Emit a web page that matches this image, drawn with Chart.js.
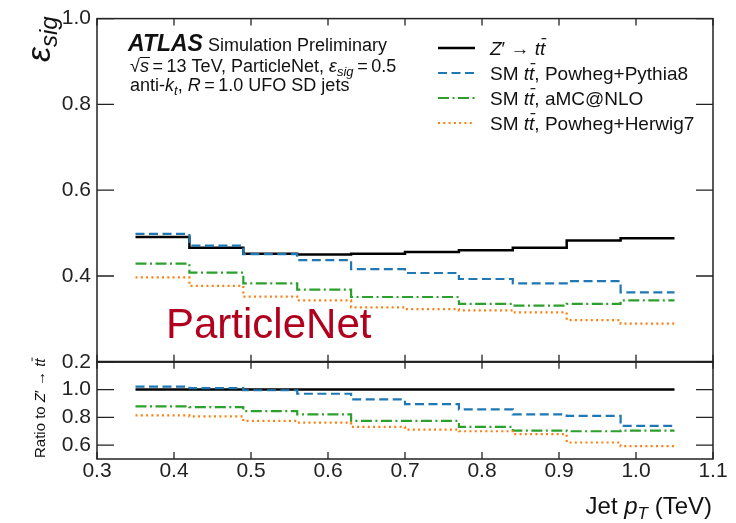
<!DOCTYPE html>
<html>
<head>
<meta charset="utf-8">
<script src="https://cdn.jsdelivr.net/npm/chart.js@4.4.0/dist/chart.umd.min.js"></script>
<style>
  html, body { margin: 0; padding: 0; background: #fff; }
  canvas { display: block; }
</style>
</head>
<body>
<canvas id="effChart" width="736" height="523"></canvas>
<script>
// jet pT bin edges (TeV)
const binEdges = [0.35, 0.42, 0.49, 0.56, 0.63, 0.70, 0.77, 0.84, 0.91, 0.98, 1.05];

const seriesLabels = ["Z′ → tt̄", "SM tt̄, Powheg+Pythia8", "SM tt̄, aMC@NLO", "SM tt̄, Powheg+Herwig7"];

// signal efficiency per bin, top panel
const effSignal = [0.491, 0.466, 0.452, 0.450, 0.452, 0.456, 0.460, 0.466, 0.483, 0.488];
const effPythia = [0.498, 0.471, 0.451, 0.437, 0.416, 0.407, 0.393, 0.383, 0.388, 0.362];
const effAmc    = [0.429, 0.408, 0.383, 0.368, 0.351, 0.351, 0.335, 0.331, 0.335, 0.343];
const effHerwig = [0.397, 0.377, 0.352, 0.343, 0.327, 0.323, 0.320, 0.315, 0.297, 0.289];

// ratio to Z' -> tt, bottom panel
const ratioSignal = [1.0, 1.0, 1.0, 1.0, 1.0, 1.0, 1.0, 1.0, 1.0, 1.0];
const ratioPythia = [1.021, 1.010, 0.995, 0.970, 0.929, 0.895, 0.857, 0.821, 0.810, 0.738];
const ratioAmc    = [0.879, 0.874, 0.845, 0.821, 0.774, 0.774, 0.731, 0.705, 0.700, 0.705];
const ratioHerwig = [0.814, 0.807, 0.774, 0.762, 0.731, 0.712, 0.700, 0.679, 0.619, 0.593];

const xTicks = [0.3, 0.4, 0.5, 0.6, 0.7, 0.8, 0.9, 1.0, 1.1];
const effTicks = [0.2, 0.4, 0.6, 0.8, 1.0];
const ratioTicks = [0.6, 0.8, 1.0];

const F = '"Liberation Sans", Arial, Helvetica, sans-serif';
const fnt = (size, style) => (style ? style + ' ' : '') + size + 'px ' + F;

const styles = [
  { color: '#000000', dash: [], width: 2.5 },
  { color: '#1f77b4', dash: [9, 4.5], width: 2.2 },
  { color: '#2ca02c', dash: [11, 3.5, 2, 3.5], width: 2.2 },
  { color: '#ff7f0e', dash: [2, 3.3], width: 2.2 }
];

// histogram as step line: one point per left edge, plus the last right edge
function steps(vals) {
  const pts = vals.map((v, i) => ({ x: binEdges[i], y: v }));
  pts.push({ x: binEdges[binEdges.length - 1], y: vals[vals.length - 1] });
  return pts;
}

function mkSet(vals, k, axis) {
  return {
    label: seriesLabels[k],
    data: steps(vals),
    yAxisID: axis,
    borderColor: styles[k].color,
    borderDash: styles[k].dash,
    borderWidth: styles[k].width,
    stepped: true,
    pointRadius: 0,
    fill: false
  };
}

const mainSeries = [effSignal, effPythia, effAmc, effHerwig];
const ratioSeries = [ratioSignal, ratioPythia, ratioAmc, ratioHerwig];
const datasets = [];
[3, 2, 1, 0].forEach(k => datasets.push(mkSet(mainSeries[k], k, 'y')));
[3, 2, 1, 0].forEach(k => datasets.push(mkSet(ratioSeries[k], k, 'yr')));

// rich text: list of {t, font, dy, bar}
function drawRich(ctx, x, y, segs) {
  let cx = x;
  segs.forEach(s => {
    ctx.font = s.font;
    ctx.fillText(s.t, cx, y + (s.dy || 0));
    const w = ctx.measureText(s.t).width;
    if (s.bar) {
      ctx.save();
      ctx.lineWidth = s.barW || 1;
      ctx.strokeStyle = ctx.fillStyle;
      ctx.beginPath();
      ctx.moveTo(cx + s.bar[0], y + s.bar[1]);
      ctx.lineTo(cx + w + s.bar[2], y + s.bar[1]);
      ctx.stroke();
      ctx.restore();
    }
    cx += w;
  });
  return cx - x;
}
function richWidth(ctx, segs) {
  let w = 0;
  segs.forEach(s => { ctx.font = s.font; w += ctx.measureText(s.t).width; });
  return w;
}
// turn a label with tt̄ / Z′ into styled pieces
function richLabel(str, size) {
  const out = [];
  str.split(/(tt̄|Z′)/).forEach(p => {
    if (!p) return;
    if (p === 'tt̄') {
      out.push({ t: 't', font: fnt(size, 'italic') });
      out.push({ t: 't', font: fnt(size, 'italic'), bar: [1.5, -0.86 * size, 1], barW: size / 16 });
    } else if (p === 'Z′') {
      out.push({ t: 'Z', font: fnt(size, 'italic') });
      out.push({ t: '′', font: fnt(size) });
    } else {
      out.push({ t: p, font: fnt(size) });
    }
  });
  return out;
}

const framePlugin = {
  id: 'frame',
  afterDatasetsDraw(chart) {
    const { ctx, scales } = chart;
    const x = scales.x, y = scales.y, yr = scales.yr;
    const L = x.left, R = x.right;
    const T = y.getPixelForValue(1.0), M = y.getPixelForValue(0.2), B = yr.getPixelForValue(0.5);
    ctx.save();
    ctx.strokeStyle = '#222';
    ctx.lineWidth = 1.5;
    ctx.strokeRect(L, T, R - L, M - T);
    ctx.strokeRect(L, M, R - L, B - M);
    ctx.lineWidth = 2;
    ctx.beginPath(); ctx.moveTo(L, M); ctx.lineTo(R, M); ctx.stroke();
    ctx.lineWidth = 1.3;
    ctx.beginPath();
    effTicks.forEach(v => {
      const p = y.getPixelForValue(v);
      ctx.moveTo(L, p); ctx.lineTo(L + 17, p);
      ctx.moveTo(R, p); ctx.lineTo(R - 17, p);
    });
    ratioTicks.forEach(v => {
      const p = yr.getPixelForValue(v);
      ctx.moveTo(L, p); ctx.lineTo(L + 17, p);
      ctx.moveTo(R, p); ctx.lineTo(R - 17, p);
    });
    xTicks.forEach(v => {
      const p = x.getPixelForValue(v);
      [[T, 1], [M, -1], [M, 1], [B, -1]].forEach(([yy, d]) => {
        ctx.moveTo(p, yy); ctx.lineTo(p, yy + 7 * d);
      });
    });
    ctx.stroke();
    ctx.restore();
  }
};

const textPlugin = {
  id: 'texts',
  afterDraw(chart) {
    const ctx = chart.ctx;
    ctx.save();
    ctx.fillStyle = '#111';
    ctx.textBaseline = 'alphabetic';
    ctx.textAlign = 'left';

    // ATLAS label block
    drawRich(ctx, 128, 51, [
      { t: 'ATLAS', font: fnt(23, 'italic bold') },
      { t: ' Simulation Preliminary', font: fnt(18) }
    ]);
    drawRich(ctx, 130, 72, [
      { t: '√', font: fnt(18) },
      { t: 's', font: fnt(18, 'italic'), bar: [0, -14.5, 1], barW: 1 },
      { t: '\u2009=\u200913 TeV, ParticleNet, ', font: fnt(18) },
      { t: 'ε', font: fnt(18, 'italic') },
      { t: 'sig', font: fnt(13, 'italic'), dy: 4 },
      { t: '\u2009=\u20090.5', font: fnt(18) }
    ]);
    drawRich(ctx, 130, 91, [
      { t: 'anti-', font: fnt(18) },
      { t: 'k', font: fnt(18, 'italic') },
      { t: 't', font: fnt(13, 'italic'), dy: 4 },
      { t: ', ', font: fnt(18) },
      { t: 'R', font: fnt(18, 'italic') },
      { t: '\u2009=\u20091.0 UFO SD jets', font: fnt(18) }
    ]);

    // legend
    seriesLabels.forEach((lab, k) => {
      const cy = 48 + k * 25;
      ctx.save();
      ctx.strokeStyle = styles[k].color;
      ctx.lineWidth = styles[k].width;
      ctx.setLineDash(styles[k].dash);
      ctx.beginPath(); ctx.moveTo(438, cy); ctx.lineTo(475, cy); ctx.stroke();
      ctx.restore();
      drawRich(ctx, 490, cy + 7, richLabel(lab, 19));
    });

    // big tagger name
    ctx.fillStyle = '#b0001e';
    ctx.font = fnt(42);
    ctx.fillText('ParticleNet', 166, 338);
    ctx.fillStyle = '#111';

    // x title, right aligned
    const xt = [
      { t: 'Jet ', font: fnt(24) },
      { t: 'p', font: fnt(24, 'italic') },
      { t: 'T', font: fnt(17, 'italic'), dy: 5 },
      { t: ' (TeV)', font: fnt(24) }
    ];
    drawRich(ctx, 712 - richWidth(ctx, xt), 514, xt);

    // y title epsilon_sig
    ctx.save();
    ctx.translate(50, 62);
    ctx.rotate(-Math.PI / 2);
    drawRich(ctx, 0, 0, [
      { t: 'ε', font: fnt(34, 'italic') },
      { t: 'sig', font: fnt(24, 'italic'), dy: 7 }
    ]);
    ctx.restore();

    // ratio title
    ctx.save();
    ctx.translate(45, 458);
    ctx.rotate(-Math.PI / 2);
    drawRich(ctx, 0, 0, richLabel('Ratio to Z′ → tt̄', 15));
    ctx.restore();
    ctx.restore();
  }
};

const tickFont = { family: F, size: 21 };

new Chart(document.getElementById('effChart'), {
  type: 'line',
  data: { datasets: datasets },
  options: {
    responsive: false,
    animation: false,
    layout: { padding: { top: 15, right: 23, left: 0, bottom: 0 } },
    plugins: { legend: { display: false }, tooltip: { enabled: false } },
    scales: {
      x: {
        type: 'linear', min: 0.3, max: 1.1,
        grid: { display: false, drawTicks: false },
        border: { display: false },
        afterBuildTicks: s => { s.ticks = xTicks.map(v => ({ value: v })); },
        afterFit: s => { s.height = 64; },
        ticks: { font: tickFont, color: '#222', padding: 0, autoSkip: false, maxRotation: 0,
                 callback: v => v.toFixed(1) }
      },
      // left boxes are stacked in reverse order, so the ratio axis comes first
      yr: {
        type: 'linear', min: 0.5, max: 1.2, position: 'left',
        stack: 'panels', stackWeight: 98,
        grid: { display: false, drawTicks: false },
        border: { display: false },
        afterBuildTicks: s => { s.ticks = ratioTicks.map(v => ({ value: v })); },
        afterFit: s => { s.width = 97; },
        ticks: { font: tickFont, color: '#222', padding: 6, autoSkip: false,
                 callback: v => v.toFixed(1) }
      },
      y: {
        type: 'linear', min: 0.2, max: 1.0, position: 'left',
        stack: 'panels', stackWeight: 346,
        grid: { display: false, drawTicks: false },
        border: { display: false },
        afterBuildTicks: s => { s.ticks = effTicks.map(v => ({ value: v })); },
        afterFit: s => { s.width = 97; },
        ticks: { font: tickFont, color: '#222', padding: 6, autoSkip: false,
                 callback: v => v.toFixed(1) }
      }
    }
  },
  plugins: [framePlugin, textPlugin]
});
</script>
</body>
</html>
